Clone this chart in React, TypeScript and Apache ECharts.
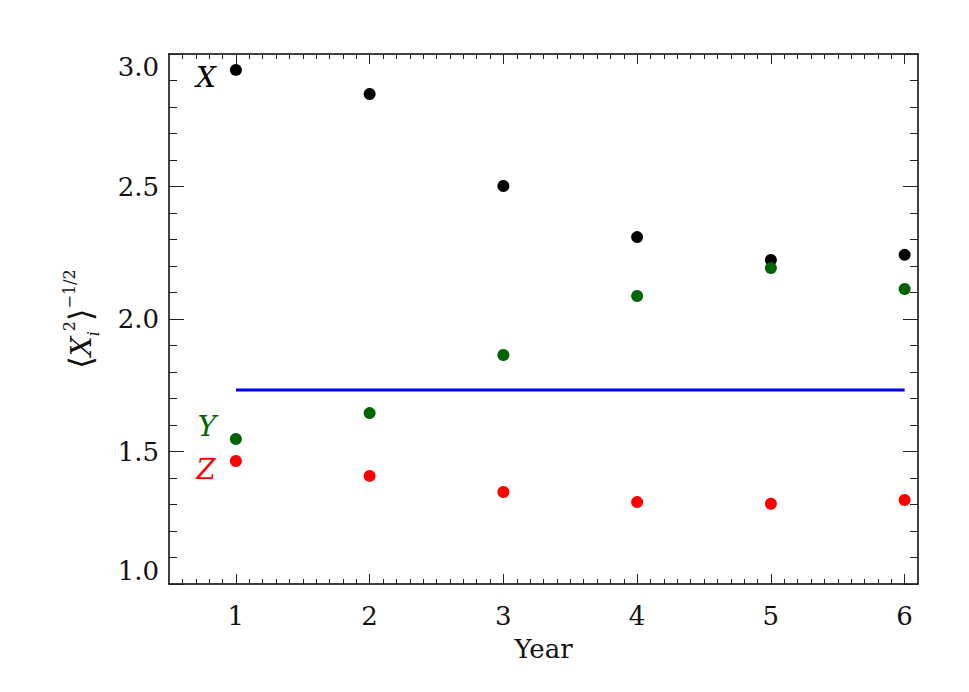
import React, { useEffect, useRef } from "react";
import * as echarts from "echarts";

const years = [1, 2, 3, 4, 5, 6];
const xValues = [2.94, 2.849, 2.502, 2.309, 2.223, 2.242];
const yValues = [1.547, 1.645, 1.864, 2.087, 2.192, 2.113];
const zValues = [1.464, 1.408, 1.347, 1.309, 1.303, 1.317];
const refLevel = 1.732;
const refStart = 1;
const refEnd = 6;
const seriesNames = ["X", "Y", "Z"];
const seriesColors = ["#000000", "#006400", "#ff0000"];

const X_MIN = 0.5;
const X_MAX = 6.1;
const minorX: number[] = [];
for (let k = 6; k <= 60; k++) {
  if (k % 10 !== 0) minorX.push(k / 10);
}

const SERIF = '"DejaVu Serif", "Liberation Serif", serif';
const lineStyle = { color: "#000", width: 1.5 };
const tickStyle = { color: "#222", width: 1 };

export default function App() {
  const ref = useRef<HTMLDivElement>(null);
  useEffect(() => {
    if (!ref.current) return;
    const chart = echarts.init(ref.current, undefined, { renderer: "svg" });
    const baseX = {
      type: "value" as const,
      min: X_MIN,
      max: X_MAX,
      splitLine: { show: false },
    };
    const baseY = {
      type: "value" as const,
      min: 1,
      max: 3,
      interval: 0.5,
      splitLine: { show: false },
      minorSplitLine: { show: false },
    };
    const option: any = {
      animation: false,
      backgroundColor: "#fff",
      grid: { left: 169, right: 51, top: 54, bottom: 108, containLabel: false },
      xAxis: [
        {
          ...baseX,
          position: "bottom",
          axisLine: { show: true, onZero: false, lineStyle },
          axisTick: { show: true, inside: true, length: 10, customValues: years, lineStyle: tickStyle },
          axisLabel: {
            show: true,
            customValues: years,
            fontFamily: SERIF,
            fontSize: 26,
            color: "#111",
            margin: 19,
            formatter: (v: number) => String(v),
          },
          name: "Year",
          nameLocation: "middle",
          nameGap: 52,
          nameTextStyle: { fontFamily: SERIF, fontSize: 26, color: "#111" },
        },
        {
          ...baseX,
          position: "bottom",
          axisLine: { show: false },
          axisTick: { show: true, inside: true, length: 5, customValues: minorX, lineStyle: tickStyle },
          axisLabel: { show: false },
        },
        {
          ...baseX,
          position: "top",
          axisLine: { show: true, onZero: false, lineStyle },
          axisTick: { show: true, inside: true, length: 10, customValues: years, lineStyle: tickStyle },
          axisLabel: { show: false },
        },
        {
          ...baseX,
          position: "top",
          axisLine: { show: false },
          axisTick: { show: true, inside: true, length: 5, customValues: minorX, lineStyle: tickStyle },
          axisLabel: { show: false },
        },
      ],
      yAxis: [
        {
          ...baseY,
          position: "left",
          axisLine: { show: true, onZero: false, lineStyle },
          axisTick: { show: true, inside: true, length: 15, lineStyle: tickStyle },
          minorTick: { show: true, splitNumber: 5, length: 8, lineStyle: tickStyle },
          axisLabel: {
            show: true,
            fontFamily: SERIF,
            fontSize: 26,
            color: "#111",
            margin: 10,
            formatter: (v: number) => v.toFixed(1),
            verticalAlignMinLabel: "bottom",
            verticalAlignMaxLabel: "top",
          },
          name: "{br|⟨}{x|X}{sub|i}{sup|2}{br|⟩}{sup|−1/2}",
          nameLocation: "middle",
          nameRotate: 90,
          nameGap: 68,
          nameTextStyle: {
            rich: {
              br: { fontFamily: '"DejaVu Sans", sans-serif', fontSize: 32, color: "#111", lineHeight: 40 },
              x: { fontFamily: SERIF, fontStyle: "italic", fontSize: 28, color: "#111", lineHeight: 40 },
              sup: { fontFamily: SERIF, fontSize: 16, color: "#111", verticalAlign: "top", lineHeight: 40, padding: [0, 0, 16, 0] },
              sub: { fontFamily: SERIF, fontStyle: "italic", fontSize: 16, color: "#111", verticalAlign: "bottom", lineHeight: 40, padding: [6, 0, 0, 0] },
            },
          },
        },
        {
          ...baseY,
          position: "right",
          axisLine: { show: true, onZero: false, lineStyle },
          axisTick: { show: true, inside: true, length: 15, lineStyle: tickStyle },
          minorTick: { show: true, splitNumber: 5, length: 8, lineStyle: tickStyle },
          axisLabel: { show: false },
        },
      ],
      series: [
        {
          type: "line",
          xAxisIndex: 0,
          yAxisIndex: 0,
          data: [
            [refStart, refLevel],
            [refEnd, refLevel],
          ],
          symbol: "none",
          lineStyle: { color: "#0000ff", width: 3 },
          silent: true,
          z: 1,
        },
        ...[xValues, yValues, zValues].map((vals, i) => ({
          type: "scatter",
          name: seriesNames[i],
          xAxisIndex: 0,
          yAxisIndex: 0,
          data: years.map((yr, j) => [yr, vals[j]]),
          symbol: "circle",
          symbolSize: 12,
          itemStyle: { color: seriesColors[i], opacity: 1 },
          z: 3,
        })),
      ],
      graphic: [
        { type: "text", x: 206, y: 77, style: { text: "X", font: `italic 28px ${SERIF}`, fill: seriesColors[0], align: "center", verticalAlign: "middle" } },
        { type: "text", x: 207, y: 426, style: { text: "Y", font: `italic 28px ${SERIF}`, fill: seriesColors[1], align: "center", verticalAlign: "middle" } },
        { type: "text", x: 206, y: 469, style: { text: "Z", font: `italic 28px ${SERIF}`, fill: seriesColors[2], align: "center", verticalAlign: "middle" } },
      ],
    };
    chart.setOption(option);
    return () => chart.dispose();
  }, []);
  return (
    <div
      ref={ref}
      style={{ position: "fixed", left: 0, top: 0, width: 969, height: 692, background: "#fff" }}
    />
  );
}
